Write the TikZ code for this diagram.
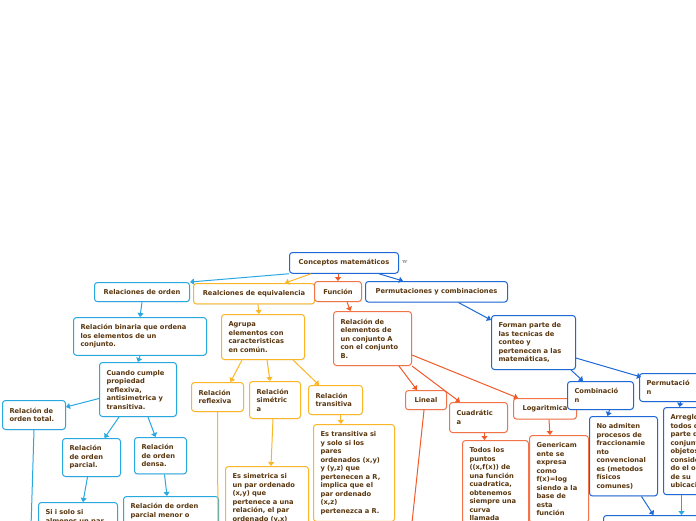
\documentclass[tikz,border=0pt]{standalone}
\usepackage{fontspec}
\usetikzlibrary{arrows.meta, shadows}
\newfontfamily\mapfont{DejaVu Sans}
\definecolor{ordcyan}{RGB}{41,168,224}
\definecolor{eqorange}{RGB}{251,182,40}
\definecolor{funred}{RGB}{241,90,41}
\definecolor{permblue}{RGB}{30,105,215}
\definecolor{txtbrown}{RGB}{90,55,15}

\begin{document}
\begin{tikzpicture}[
		x=1pt, y=-1pt,
		mapbox/.style={rounded corners=3pt, fill=white, line width=1pt, anchor=north west,
			align=left, inner xsep=7pt, inner ysep=7pt, text=txtbrown,
			font=\mapfont\bfseries\fontsize{6.7}{8.5}\selectfont,
			drop shadow={shadow xshift=0.5pt, shadow yshift=-0.8pt, opacity=0.15}},
		ordbox/.style={mapbox, draw=ordcyan},
		eqbox/.style={mapbox, draw=eqorange},
		funbox/.style={mapbox, draw=funred!85!white},
		permbox/.style={mapbox, draw=permblue},
		ordarrow/.style={-{Triangle[length=4pt, width=6pt]}, line width=1pt, draw=ordcyan},
		eqarrow/.style={-{Triangle[length=4pt, width=6pt]}, line width=1pt, draw=eqorange},
		funarrow/.style={-{Triangle[length=4pt, width=6pt]}, line width=1pt, draw=funred},
		permarrow/.style={-{Triangle[length=4pt, width=6pt]}, line width=1pt, draw=permblue}
	]
		\useasboundingbox (0,0) rectangle (696,520);
		\clip (0,0) rectangle (696,520);

		% centro
		\node[permbox, minimum width=109pt, minimum height=20pt, align=center] (concept) at (289,252) {Conceptos matemáticos};
		\node[font=\fontsize{7}{8}\selectfont, text=black!65, anchor=west, inner sep=0pt] (wmark) at (402,262) {w};

		% relaciones de orden
		\node[ordbox, minimum width=95pt, minimum height=19pt, align=center] (orden) at (94,282) {Relaciones de orden};
		\node[ordbox, text width=119pt, minimum height=37pt] (binaria) at (73,317) {Relación binaria que ordena\\los elementos de un\\conjunto.};
		\node[ordbox, text width=63pt, minimum height=54pt] (cumple) at (99,362) {Cuando cumple\\propiedad\\reflexiva,\\antisimetrica y\\transitiva.};
		\node[ordbox, text width=49pt, minimum height=29pt] (total) at (2,400) {Relación de\\orden total.};
		\node[ordbox, text width=44pt, minimum height=38pt] (parcial) at (62,438) {Relación\\de orden\\parcial.};
		\node[ordbox, text width=38pt, minimum height=36pt] (densa) at (134,437) {Relación\\de orden\\densa.};
		\node[ordbox, text width=65pt] (sisolo) at (38,502) {Si i solo si\\almenos un par};
		\node[ordbox, text width=81pt] (menor) at (123,496) {Relación de orden\\parcial menor o};
		\coordinate (totaldown) at (30,560);

		% relaciones de equivalencia
		\node[eqbox, minimum width=121pt, minimum height=20pt, align=center] (equiv) at (193,283) {Realciones de equivalencia};
		\node[eqbox, text width=69pt, minimum height=45pt] (agrupa) at (221,314) {Agrupa\\elementos con\\caracteristicas\\en común.};
		\node[eqbox, text width=38pt, minimum height=29pt] (reflexiva) at (191,382) {Relación\\reflexiva};
		\node[eqbox, text width=37pt, minimum height=37pt] (simetrica) at (249,381) {Relación\\simétric\\a};
		\node[eqbox, text width=40pt, minimum height=29pt] (transitiva) at (308,385) {Relación\\transitiva};
		\node[eqbox, text width=67pt] (estrans) at (313,424) {Es transitiva si\\y solo si los\\pares\\ordenados (x,y)\\y (y,z) que\\pertenecen a R,\\implica que el\\par ordenado\\(x,z)\\pertenezca a R.};
		\node[eqbox, text width=69pt] (essim) at (225,466) {Es simetrica si\\un par ordenado\\(x,y) que\\pertenece a una\\relación, el par\\ordenado (y,x)};
		\coordinate (reflexdown) at (218,560);

		% funcion
		\node[funbox, minimum width=47pt, minimum height=20pt, align=center] (funcion) at (314,281) {Función};
		\node[funbox, text width=64pt, minimum height=54pt] (relelem) at (333,311) {Relación de\\elementos de\\un conjunto A\\con el conjunto\\B.};
		\node[funbox, minimum width=41pt, minimum height=19pt, align=center] (lineal) at (405,390) {Lineal};
		\node[funbox, text width=44pt, minimum height=30pt] (cuadratica) at (449,402) {Cuadrátic\\a};
		\node[funbox, minimum width=63pt, minimum height=20pt, align=center] (logaritmica) at (513,398) {Logaritmica};
		\node[funbox, text width=52pt] (todos) at (462,440) {Todos los\\puntos\\((x,f(x)) de\\una función\\cuadratica,\\obtenemos\\siempre una\\curva\\llamada};
		\node[funbox, text width=45pt] (generica) at (529,435) {Genericam\\ente se\\expresa\\como\\f(x)=log\\siendo a la\\base de\\esta\\función};
		\coordinate (linealdown) at (408,560);

		% permutaciones y combinaciones
		\node[permbox, minimum width=142pt, minimum height=20pt, align=center] (perm) at (365,281) {Permutaciones y combinaciones};
		\node[permbox, text width=70pt, minimum height=54pt] (forman) at (491,315) {Forman parte de\\las tecnicas de\\conteo y\\pertenecen a las\\matemáticas,};
		\node[permbox, text width=52pt, minimum height=28pt] (combinacion) at (567,381) {Combinació\\n};
		\node[permbox, text width=46pt, minimum height=28pt] (permutacion) at (639,373) {Permutació\\n};
		\node[permbox, text width=54pt] (noadmiten) at (589,416) {No admiten\\procesos de\\fraccionamie\\nto\\convencional\\es (metodos\\físicos\\comunes)};
		\node[permbox, text width=52pt] (arreglo) at (663,407) {Arreglo de\\todos o\\parte de un\\conjunto de\\objetos\\consideran\\do el orden\\de su\\ubicación};
		\node[permbox, minimum width=110pt, minimum height=30pt] (final) at (603,515) {};

		% conectores
		\draw[ordarrow] (concept.south west) -- (orden.north east);
		\draw[eqarrow] ([xshift=22pt]concept.south west) -- ([xshift=-30pt]equiv.north east);
		\draw[funarrow] (funcion.north |- concept.south) -- (funcion.north);
		\draw[permarrow] ([xshift=-20pt]concept.south east) -- ([xshift=38pt]perm.north west);

		\draw[ordarrow] (orden.south) -- (binaria.north);
		\draw[ordarrow] (binaria.south) -- (cumple.north);
		\draw[ordarrow] ([yshift=-9pt]cumple.west) -- ([yshift=8pt]total.east);
		\draw[ordarrow] ([xshift=-19pt]cumple.south) -- ([xshift=13pt]parcial.north);
		\draw[ordarrow] ([xshift=10pt]cumple.south) -- ([xshift=-5pt]densa.north);
		\draw[ordarrow] ([xshift=-4pt]parcial.south) -- ([xshift=5pt]sisolo.north);
		\draw[ordarrow] ([xshift=4pt]densa.south) -- ([xshift=-4pt]menor.north);
		\draw[ordarrow, -] (total.south) -- (totaldown);

		\draw[eqarrow] ([xshift=4pt]equiv.south) -- ([xshift=-4pt]agrupa.north);
		\draw[eqarrow] ([xshift=21pt]agrupa.south west) -- ([xshift=13pt]reflexiva.north);
		\draw[eqarrow] ([xshift=4pt]agrupa.south) -- ([xshift=-5pt]simetrica.north);
		\draw[eqarrow] ([xshift=-12pt]agrupa.south east) -- ([xshift=11pt]transitiva.north west);
		\draw[eqarrow] ([xshift=5pt]transitiva.south) -- ([xshift=-13pt]estrans.north);
		\draw[eqarrow] ([xshift=-2pt]simetrica.south) -- ([xshift=4pt]essim.north);
		\draw[eqarrow, -] (reflexiva.south) -- (reflexdown);

		\draw[funarrow] ([xshift=9pt]funcion.south) -- ([xshift=-22pt]relelem.north);
		\draw[funarrow] ([xshift=-13pt]relelem.south east) -- ([xshift=-9pt]lineal.north);
		\draw[funarrow] (relelem.south east) -- ([xshift=11pt]cuadratica.north west);
		\draw[funarrow] ([yshift=11pt]relelem.south east) -- ([xshift=5pt]logaritmica.north west);
		\draw[funarrow] ([xshift=6pt]cuadratica.south) -- ([xshift=-11pt]todos.north);
		\draw[funarrow] ([xshift=4pt]logaritmica.south) -- ([xshift=-9pt]generica.north);
		\draw[funarrow, -] ([xshift=-2pt]lineal.south) -- (linealdown);

		\draw[permarrow] ([xshift=22pt]perm.south) -- ([yshift=-5pt]forman.north west);
		\draw[permarrow] ([xshift=-5pt]forman.south east) -- ([xshift=16pt]combinacion.north west);
		\draw[permarrow] ([yshift=12pt]forman.south east) -- ([xshift=2pt, yshift=-4pt]permutacion.north west);
		\draw[permarrow] ([xshift=9pt]combinacion.south) -- ([xshift=-16pt]noadmiten.north);
		\draw[permarrow] ([xshift=11pt]permutacion.south) -- ([xshift=-17pt]arreglo.north);
		\draw[permarrow] ([xshift=18pt]noadmiten.south) -- ([xshift=-5pt]final.north);
		\draw[ordarrow] ([xshift=-15pt]arreglo.south) -- ([xshift=23pt]final.north);
	\end{tikzpicture}
\end{document}
